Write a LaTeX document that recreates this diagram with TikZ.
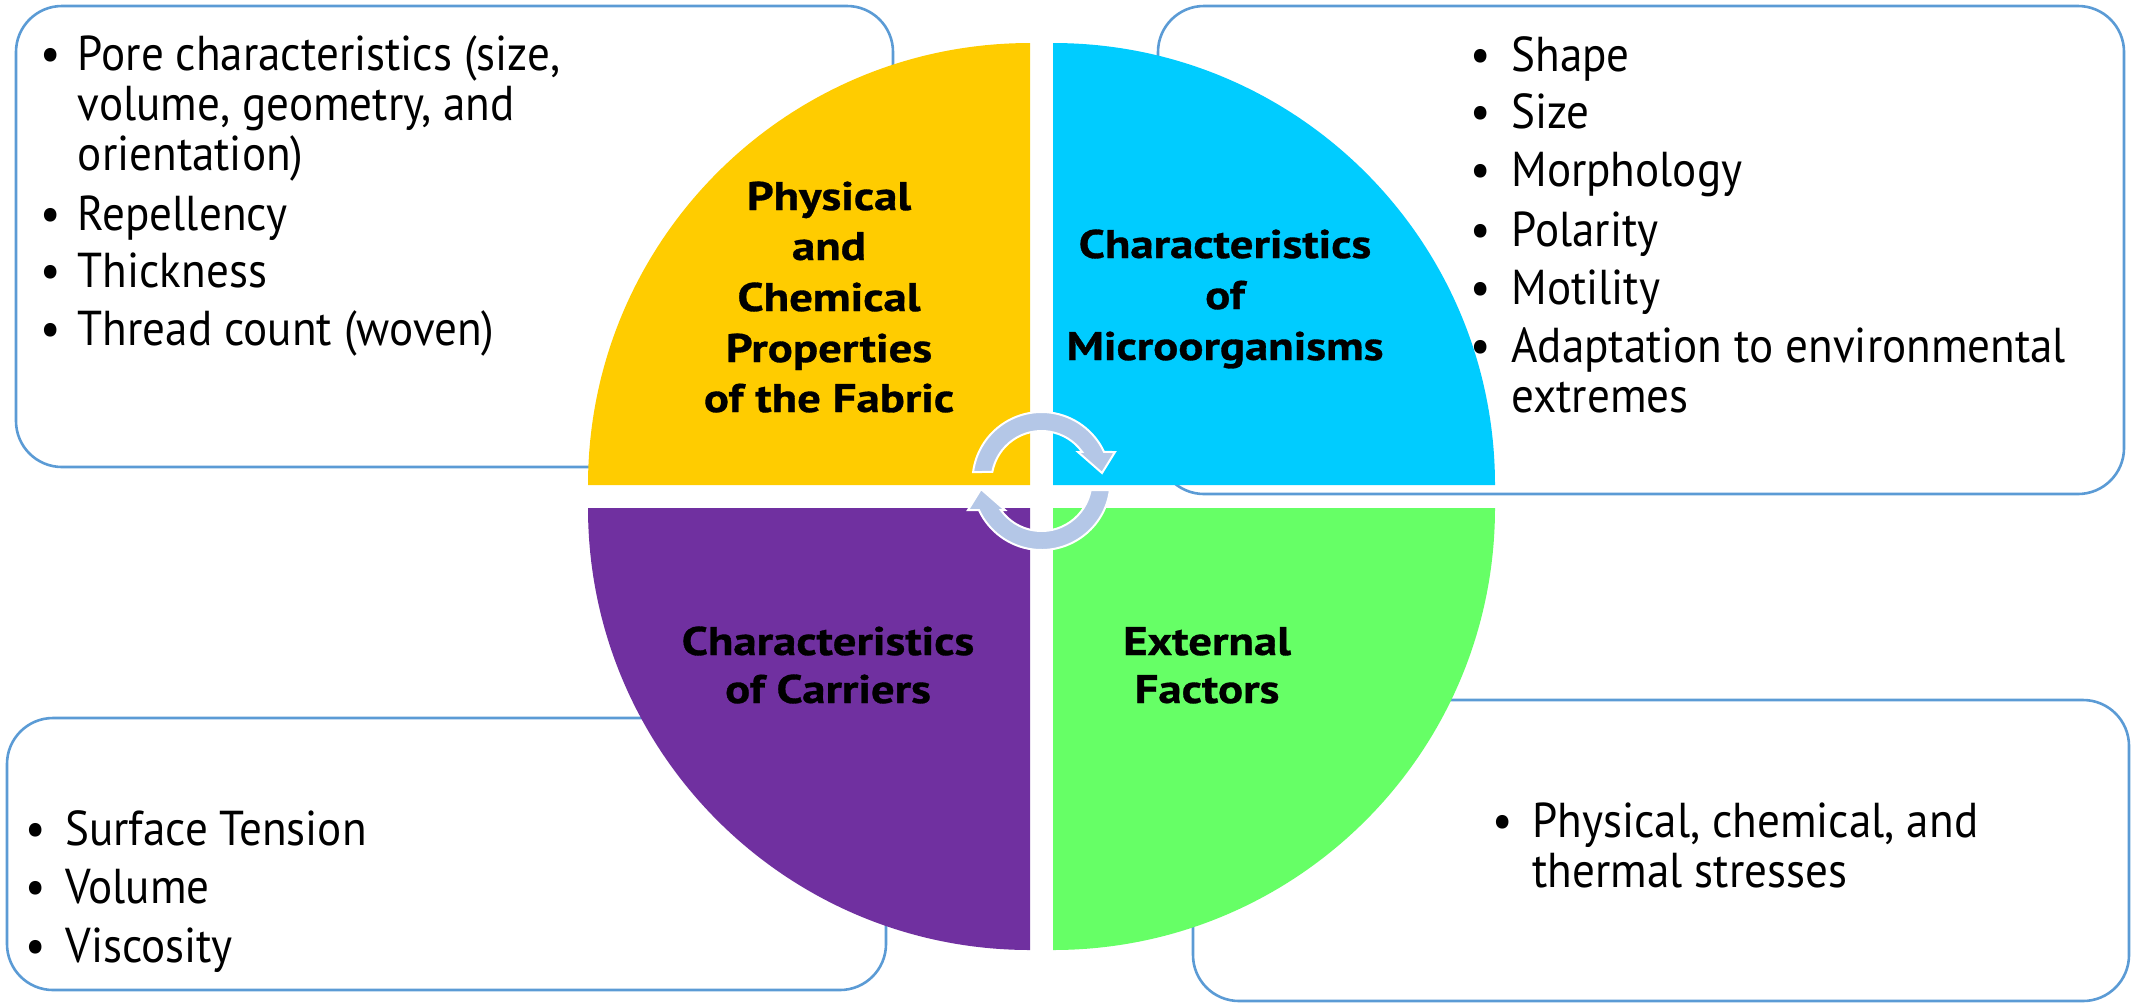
\documentclass[tikz,border=0pt]{standalone}
\usepackage{fontspec}
\usetikzlibrary{calc}
\setmainfont{PT Sans}
\newfontfamily\gill[FakeStretch=0.92]{PT Sans}
\newfontfamily\gillbold[FakeStretch=1.17,FakeBold=0.8]{PT Sans Bold}
\definecolor{fabric}{HTML}{FFCC00}
\definecolor{microbe}{HTML}{00CCFF}
\definecolor{carrier}{HTML}{7030A0}
\definecolor{external}{HTML}{66FF66}
\definecolor{cardline}{HTML}{5B9BD5}
\definecolor{cycle}{HTML}{B4C7E7}
\begin{document}
\begin{tikzpicture}[x=0.5pt,y=-0.5pt,
  card/.style={draw=cardline, line width=1.3pt, fill=white, rounded corners=23pt},
  txt/.style={font=\gill\fontsize{24.5}{26}\selectfont, anchor=base west, inner sep=0pt},
  bul/.style={font=\gill\fontsize{24.5}{26}\selectfont, anchor=base, inner sep=0pt},
  lbl/.style={font=\gillbold\fontsize{20}{24}\selectfont, anchor=base, inner sep=0pt},
  cyclearrow/.style={fill=cycle, draw=white, line width=1pt, line join=miter}]
\useasboundingbox (0,0) rectangle (2136,1003);

% detail cards behind the disc
\draw[card] (16,6) rectangle (893,467);
\draw[card] (1158,6) rectangle (2124,494);
\draw[card] (7,718) rectangle (886,990);
\draw[card] (1193,700) rectangle (2129,1001);

% four quadrants of the disc
\fill[fabric]   (1030,485) -- ++(-442,0) arc[start angle=180, end angle=270, radius=442] -- cycle;
\fill[microbe]  (1053,485) -- ++(0,-442) arc[start angle=270, end angle=360, radius=442] -- cycle;
\fill[external] (1053,508) -- ++(442,0) arc[start angle=0, end angle=90, radius=442] -- cycle;
\fill[carrier]  (1030,508) -- ++(0,442) arc[start angle=90, end angle=180, radius=442] -- cycle;

% circular arrows in the middle
\coordinate (c1) at (1041.5,481);
\draw[cyclearrow] ($(c1)+(-172.5:69)$) arc[start angle=-172.5, end angle=-24.9, radius=69]
  -- ($(c1)+(73.5,-29)$) -- ($(c1)+(60.5,-8)$) -- ($(c1)+(36.5,-29)$)
  -- ($(c1)+(-35.5:50)$) arc[start angle=-35.5, end angle=-169.6, radius=50] -- cycle;
\begin{scope}[rotate around={180:(1041.5,497)}]
\draw[cyclearrow] ($(c1)+(-172.5:69)$) arc[start angle=-172.5, end angle=-24.9, radius=69]
  -- ($(c1)+(73.5,-29)$) -- ($(c1)+(60.5,-8)$) -- ($(c1)+(36.5,-29)$)
  -- ($(c1)+(-35.5:50)$) arc[start angle=-35.5, end angle=-169.6, radius=50] -- cycle;
\end{scope}

% quadrant titles
\node[lbl] (f1) at (829,210) {Physical};
\node[lbl] (f2) at (829,260) {and};
\node[lbl] (f3) at (829,311) {Chemical};
\node[lbl] (f4) at (829,362) {Properties};
\node[lbl] (f5) at (829,412) {of the Fabric};
\node[lbl] (m1) at (1225,258) {Characteristics};
\node[lbl] (m2) at (1225,309) {of};
\node[lbl] (m3) at (1225,360) {Microorganisms};
\node[lbl] (k1) at (828,655) {Characteristics};
\node[lbl] (k2) at (828,703) {of Carriers};
\node[lbl] (e1) at (1207,655) {External};
\node[lbl] (e2) at (1207,703) {Factors};

% fabric card
\node[bul] (fb1) at (50.5,70) {•};
\node[txt] (ft1) at (77.5,70) {Pore characteristics (size,};
\node[txt] (ft1b) at (77.5,120) {volume, geometry, and};
\node[txt] (ft1c) at (77.5,170) {orientation)};
\node[bul] (fb2) at (50.5,230) {•};
\node[txt] (ft2) at (77.5,230) {Repellency};
\node[bul] (fb3) at (50.5,287) {•};
\node[txt] (ft3) at (77.5,287) {Thickness};
\node[bul] (fb4) at (50.5,345) {•};
\node[txt] (ft4) at (77.5,345) {Thread count (woven)};

% microorganism card
\node[bul] (mb1) at (1481,71) {•};
\node[txt] (mt1) at (1511,71) {Shape};
\node[bul] (mb2) at (1481,128) {•};
\node[txt] (mt2) at (1511,128) {Size};
\node[bul] (mb3) at (1481,186) {•};
\node[txt] (mt3) at (1511,186) {Morphology};
\node[bul] (mb4) at (1481,246) {•};
\node[txt] (mt4) at (1511,246) {Polarity};
\node[bul] (mb5) at (1481,304) {•};
\node[txt] (mt5) at (1511,304) {Motility};
\node[bul] (mb6) at (1481,362) {•};
\node[txt] (mt6) at (1511,362) {Adaptation to environmental};
\node[txt] (mt6b) at (1511,412) {extremes};

% carrier card
\node[bul] (kb1) at (36,845) {•};
\node[txt] (kt1) at (65,845) {Surface Tension};
\node[bul] (kb2) at (36,903) {•};
\node[txt] (kt2) at (65,903) {Volume};
\node[bul] (kb3) at (36,962) {•};
\node[txt] (kt3) at (65,962) {Viscosity};

% external factor card
\node[bul] (eb1) at (1503,837) {•};
\node[txt] (et1) at (1532,837) {Physical, chemical, and};
\node[txt] (et1b) at (1532,887) {thermal stresses};
\end{tikzpicture}
\end{document}
